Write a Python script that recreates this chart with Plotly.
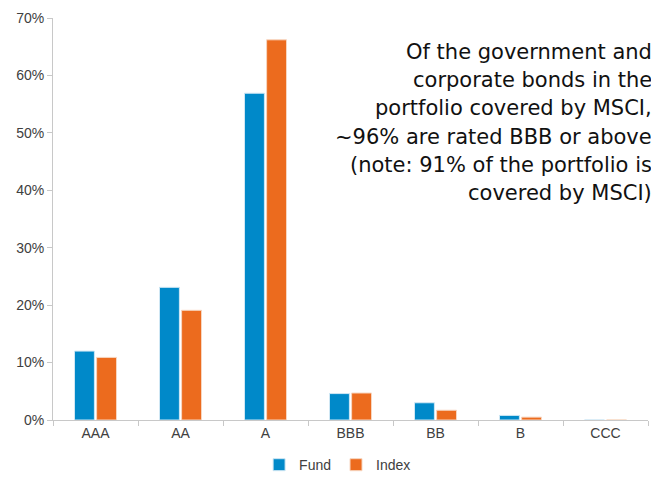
import plotly.graph_objects as go

categories = ["AAA", "AA", "A", "BBB", "BB", "B", "CCC"]
fund = [12.0, 23.1, 56.9, 4.6, 3.0, 0.8, 0.0]
index_vals = [10.9, 19.1, 66.2, 4.7, 1.7, 0.5, 0.0]
y_ticks = [0, 10, 20, 30, 40, 50, 60, 70]
y_tick_labels = [f"{v}%" for v in y_ticks]
note_lines = [
    "Of the government and",
    "corporate bonds in the",
    "portfolio covered by MSCI,",
    "~96% are rated BBB or above",
    "(note: 91% of the portfolio is",
    "covered by MSCI)",
]
note_line_y = [0.9154, 0.8458, 0.7761, 0.7040, 0.6343, 0.5647]

fig = go.Figure()
fig.add_trace(go.Bar(x=categories, y=fund, name="Fund",
                     marker=dict(color="#0089C9", line=dict(color="#cfe7f4", width=1))))
fig.add_trace(go.Bar(x=categories, y=index_vals, name="Index",
                     marker=dict(color="#EC6B1E", line=dict(color="#f7d6c0", width=1))))

annotations = [
    dict(xref="paper", yref="paper", x=1.0101, y=yy, xanchor="right", yanchor="middle",
         align="right", showarrow=False, text=line,
         font=dict(family="DejaVu Sans", size=21, color="#111111"))
    for line, yy in zip(note_lines, note_line_y)
]

fig.update_layout(
    width=651, height=478,
    margin=dict(l=53, r=3, t=18, b=58),
    paper_bgcolor="#ffffff", plot_bgcolor="#ffffff",
    barmode="group", bargap=0.48, bargroupgap=0.1,
    font=dict(family="Liberation Sans, Arial", size=14, color="#404040"),
    showlegend=True,
    legend=dict(orientation="h", xref="container", yref="container",
                x=0.398, xanchor="left", y=0.027, yanchor="middle",
                font=dict(size=14, color="#404040"), itemwidth=30, bgcolor="rgba(0,0,0,0)"),
    xaxis=dict(showline=True, linecolor="#c8c8c8", linewidth=1, ticks="outside",
               tickson="boundaries", tickcolor="#c8c8c8", ticklen=5, showgrid=False,
               tickfont=dict(size=14, color="#404040")),
    yaxis=dict(range=[0, 70], tickvals=y_ticks, ticktext=y_tick_labels, showline=True,
               linecolor="#c8c8c8", linewidth=1, ticks="outside", tickcolor="#c8c8c8",
               ticklen=5, showgrid=False, zeroline=False,
               tickfont=dict(size=14, color="#404040")),
    annotations=annotations,
)

fig.write_html(
    "out.html",
    config={"displayModeBar": False},
    post_script=(
        "document.body.style.margin='0';"
        "document.body.style.overflow='hidden';"
        "document.documentElement.style.overflow='hidden';"
    ),
)
